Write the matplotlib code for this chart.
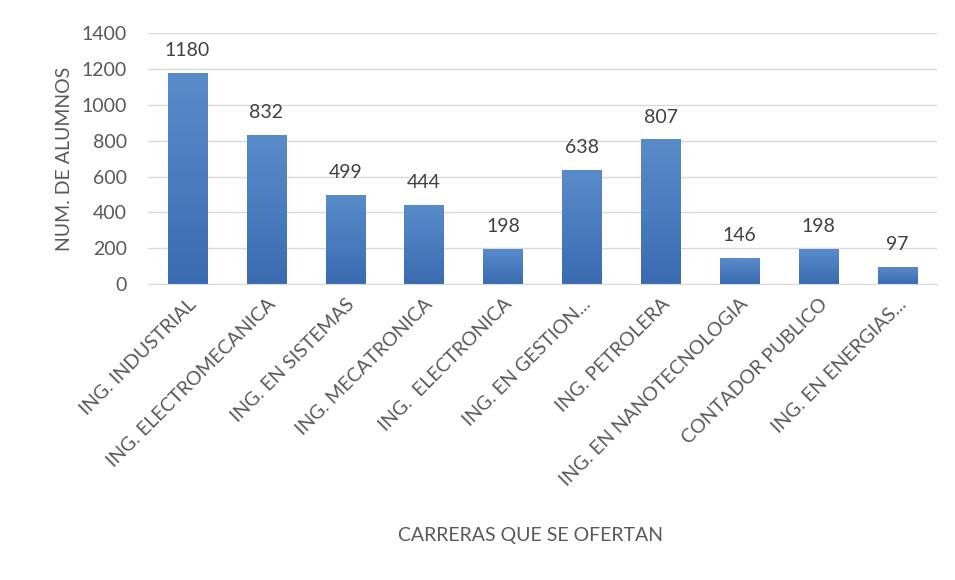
import numpy as np
import matplotlib.pyplot as plt
from matplotlib.colors import LinearSegmentedColormap

# data
carreras = [
    "ING. INDUSTRIAL",
    "ING. ELECTROMECANICA",
    "ING. EN SISTEMAS",
    "ING. MECATRONICA",
    "ING.  ELECTRONICA",
    "ING. EN GESTION...",
    "ING. PETROLERA",
    "ING. EN NANOTECNOLOGIA",
    "CONTADOR PUBLICO",
    "ING. EN ENERGIAS...",
]
alumnos = [1180, 832, 499, 444, 198, 638, 807, 146, 198, 97]
y_ticks = [0, 200, 400, 600, 800, 1000, 1200, 1400]

plt.rcParams["font.family"] = ["Lato", "DejaVu Sans"]
txt_color = "#595959"
fs = 14

fig = plt.figure(figsize=(9.55, 5.8), dpi=100)
ax = fig.add_axes([0.155, 0.51, 0.826, 0.433])

x = np.arange(len(carreras))
bars = ax.bar(x, alumnos, width=0.5, color="#4a7ebf", zorder=2)

# vertical gradient fill in each bar
cmap = LinearSegmentedColormap.from_list("g", ["#3a6bb0", "#4a7cc0", "#5a8bc9"])
grad = np.linspace(0, 1, 256).reshape(-1, 1)
for b in bars:
    x0, y0 = b.get_x(), b.get_y()
    im = ax.imshow(grad, cmap=cmap, aspect="auto", origin="lower",
                   extent=[x0, x0 + b.get_width(), y0, y0 + b.get_height()],
                   zorder=2)
    im.set_clip_path(b)
    b.set_facecolor("none")

for xi, v in zip(x, alumnos):
    ax.annotate(str(v), (xi, v), xytext=(0, 10), textcoords="offset points",
                ha="center", va="bottom", fontsize=fs, color="#404040")

ax.set_xlim(-0.5, len(carreras) - 0.5)
ax.set_ylim(0, 1400)
ax.set_yticks(y_ticks)
ax.set_xticks(x)
ax.set_xticklabels(carreras, rotation=45, ha="right", rotation_mode="anchor")
ax.tick_params(axis="both", length=0, labelsize=fs, colors=txt_color)
ax.tick_params(axis="x", pad=8)
ax.tick_params(axis="y", pad=15)

ax.grid(axis="y", color="#d9d9d9", linewidth=1, zorder=0)
for s in ["top", "right", "left"]:
    ax.spines[s].set_visible(False)
ax.spines["bottom"].set_color("#d9d9d9")

ax.set_ylabel("NUM. DE ALUMNOS", fontsize=fs, color=txt_color, labelpad=6)
fig.text(0.555, 0.077, "CARRERAS QUE SE OFERTAN", ha="center", va="center",
         fontsize=fs, color=txt_color)

fig.savefig("out.png", dpi=100, facecolor="white")
